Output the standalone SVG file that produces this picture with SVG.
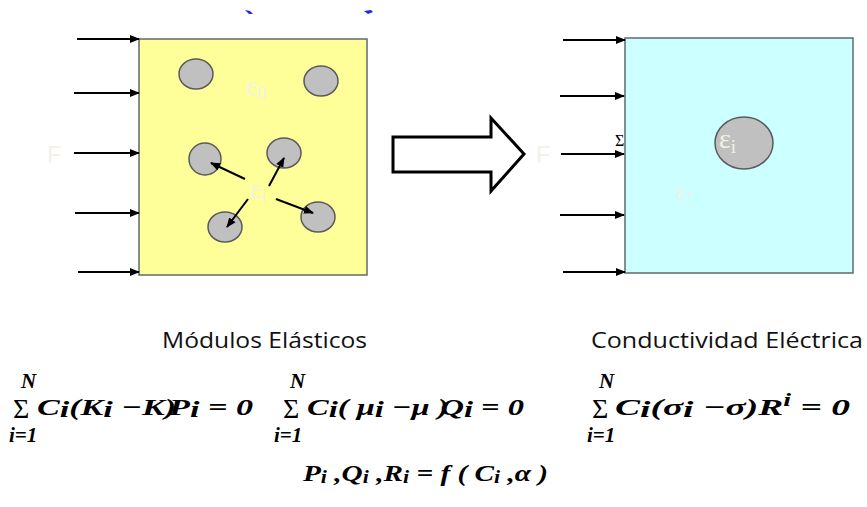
<svg xmlns="http://www.w3.org/2000/svg" width="867" height="507" viewBox="0 0 867 507">
<defs>
<style>
.box{stroke:#5f6b6b;stroke-width:1.5}
.inc{fill:#c0c0c0;stroke:#5a5a5a;stroke-width:1.5}
.ln{stroke:#000;stroke-width:2;fill:none}
.lbl{font-family:"Liberation Serif","Times New Roman",serif;fill:#f3f1e6}
.fl{font-family:"Liberation Sans",sans-serif;font-size:24px;fill:#f3f1e6}
.hd{font-family:"Open Sans","Noto Sans",sans-serif;font-size:21px;fill:#111}
.eq{font-family:"Liberation Serif","Times New Roman",serif;font-weight:700;font-style:italic;font-size:24px;fill:#000}
.sg{font-family:"Liberation Serif","Times New Roman",serif;fill:#000}
.lim{font-family:"Liberation Serif","Times New Roman",serif;font-weight:700;font-style:italic;font-size:21px;fill:#000}
</style>
<marker id="ah" viewBox="0 0 10 10" refX="9" refY="5" markerWidth="5" markerHeight="5" orient="auto" markerUnits="strokeWidth">
<path d="M0,1 L10,5 L0,9 Z" fill="#000"/>
</marker>
</defs>
<rect width="867" height="507" fill="#fff"/>
<g id="marks">
<path d="M245,10 L250,11 L253,14 L249,14 Z" fill="#1f2ad8"/>
<path d="M364,11 L371,10 L373,12 L368,14 Z" fill="#1f2ad8"/>
</g>
<g id="left-box">
<rect class="box" x="139" y="39" width="228" height="236" fill="#ffff99"/>
<ellipse class="inc" cx="196" cy="74" rx="17" ry="15"/>
<ellipse class="inc" cx="321" cy="81" rx="17" ry="15"/>
<ellipse class="inc" cx="205" cy="159" rx="16" ry="16"/>
<ellipse class="inc" cx="284" cy="153" rx="17" ry="15"/>
<ellipse class="inc" cx="225" cy="227" rx="17" ry="15"/>
<ellipse class="inc" cx="318" cy="217" rx="17" ry="15"/>
<text class="lbl" x="246" y="95" font-size="27">ε<tspan font-size="18" dy="4">0</tspan></text>
<text class="lbl" x="250" y="198" font-size="27">ε<tspan font-size="18" dy="4">i</tspan></text>
</g>
<g id="right-box">
<text class="sg" x="615" y="146" font-size="16">Σ</text>
<rect class="box" x="625" y="38" width="228" height="235" fill="#ccffff"/>
<ellipse class="inc" cx="744" cy="143" rx="29" ry="26"/>
<text class="lbl" x="719" y="148" font-size="28">ε<tspan font-size="19" dy="5">i</tspan></text>
<text class="lbl" x="676" y="200" font-size="24">ε<tspan font-size="13" dy="0">*</tspan></text>
</g>
<g id="big-arrow">
<path d="M393,137 L491,137 L491,118 L524,154 L491,191 L491,172 L393,172 Z" fill="#fff" stroke="#000" stroke-width="3"/>
</g>
<g id="labels">
<text class="fl" x="47" y="163">F</text>
<text class="fl" x="536" y="163">F</text>
</g>
<g id="connectors">
<line class="ln" x1="77" y1="39" x2="139" y2="39" marker-end="url(#ah)"/>
<line class="ln" x1="74" y1="93" x2="139" y2="93" marker-end="url(#ah)"/>
<line class="ln" x1="74" y1="153" x2="139" y2="153" marker-end="url(#ah)"/>
<line class="ln" x1="75" y1="213" x2="139" y2="213" marker-end="url(#ah)"/>
<line class="ln" x1="78" y1="272" x2="139" y2="272" marker-end="url(#ah)"/>
<line class="ln" x1="563" y1="40" x2="625" y2="40" marker-end="url(#ah)"/>
<line class="ln" x1="560" y1="96" x2="624" y2="96" marker-end="url(#ah)"/>
<line class="ln" x1="561" y1="154" x2="624" y2="154" marker-end="url(#ah)"/>
<line class="ln" x1="560" y1="215" x2="624" y2="215" marker-end="url(#ah)"/>
<line class="ln" x1="563" y1="272" x2="625" y2="272" marker-end="url(#ah)"/>
<line class="ln" x1="245" y1="179" x2="211" y2="163" marker-end="url(#ah)"/>
<line class="ln" x1="269" y1="186" x2="284" y2="158" marker-end="url(#ah)"/>
<line class="ln" x1="248" y1="199" x2="227" y2="227" marker-end="url(#ah)"/>
<line class="ln" x1="276" y1="199" x2="313" y2="213" marker-end="url(#ah)"/>
</g>
<g id="headings">
<text class="hd" x="162" y="348" textLength="205" lengthAdjust="spacingAndGlyphs">Módulos Elásticos</text>
<text class="hd" x="591" y="348" textLength="272" lengthAdjust="spacingAndGlyphs">Conductividad Eléctrica</text>
</g>
<g id="eq1">
<text class="lim" x="21" y="388">N</text>
<text class="sg" x="13" y="418" font-size="28">Σ</text>
<text class="eq" x="37" y="415" textLength="216" lengthAdjust="spacingAndGlyphs">C<tspan dy="2">i</tspan><tspan dy="-2">(K</tspan><tspan dy="2">i</tspan><tspan dy="-2"> −K)</tspan><tspan dx="-5">P</tspan><tspan dy="2">i</tspan><tspan dy="-2"> = 0</tspan></text>
<text class="lim" x="9" y="442">i=1</text>
</g>
<g id="eq2">
<text class="lim" x="290" y="388">N</text>
<text class="sg" x="283" y="418" font-size="28">Σ</text>
<text class="eq" x="307" y="415" textLength="217" lengthAdjust="spacingAndGlyphs">C<tspan dy="2">i</tspan><tspan dy="-2">( μ</tspan><tspan dy="2">i</tspan><tspan dy="-2"> −μ )</tspan><tspan dx="-6">Q</tspan><tspan dy="2">i</tspan><tspan dy="-2"> = 0</tspan></text>
<text class="lim" x="274" y="442">i=1</text>
</g>
<g id="eq3">
<text class="lim" x="599" y="388">N</text>
<text class="sg" x="592" y="418" font-size="28">Σ</text>
<text class="eq" x="615" y="415" textLength="235" lengthAdjust="spacingAndGlyphs">C<tspan dy="2">i</tspan><tspan dy="-2">(σ</tspan><tspan dy="2">i</tspan><tspan dy="-2"> −σ)R</tspan><tspan font-size="18" dy="-9">i</tspan><tspan dy="9"> = 0</tspan></text>
<text class="lim" x="587" y="442">i=1</text>
</g>
<g id="eq4">
<text class="eq" x="303" y="481" textLength="245" lengthAdjust="spacingAndGlyphs">P<tspan font-size="18" dy="2">i</tspan><tspan dy="-2"> ,Q</tspan><tspan font-size="18" dy="2">i</tspan><tspan dy="-2"> ,R</tspan><tspan font-size="18" dy="2">i</tspan><tspan dy="-2"> = f ( C</tspan><tspan font-size="18" dy="2">i</tspan><tspan dy="-2"> ,α )</tspan></text>
</g>
</svg>
